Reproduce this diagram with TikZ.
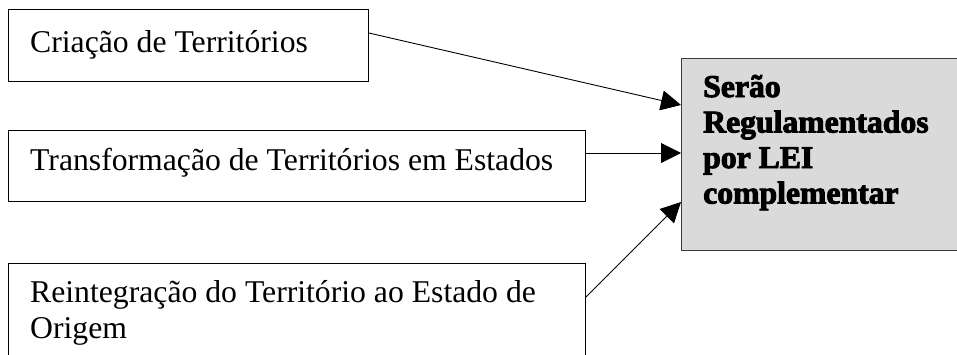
\documentclass[tikz,border=0pt]{standalone}
\usepackage{fontspec}
\setmainfont{Liberation Serif}
\newfontfamily\heavy[FakeBold=3]{Liberation Serif Bold}
\usetikzlibrary{arrows.meta,calc}
\definecolor{boxgray}{HTML}{DADADA}
\definecolor{edgegray}{HTML}{3A3A3A}
\tikzset{
  srcbox/.style={draw=black,line width=0.9pt,fill=white,rectangle,inner sep=0pt,anchor=north west},
  tgtbox/.style={draw=edgegray,line width=0.9pt,fill=boxgray,rectangle,inner sep=0pt,anchor=north west},
  lbl/.style={inner sep=0pt,anchor=base west,font=\fontsize{31.7}{36}\selectfont},
  blbl/.style={inner sep=0pt,anchor=base west,font=\fontsize{31.7}{35.5}\heavy},
  arr/.style={line width=0.9pt,-{Triangle[length=20pt,width=20pt]}}
}
\begin{document}
\begin{tikzpicture}[x=1pt,y=-1pt]
\useasboundingbox (0,0) rectangle (957,354);
\begin{scope}
\clip (0,0) rectangle (957,354);
\node[srcbox,minimum width=360pt,minimum height=72pt] (b1) at (8,9) {};
\node[srcbox,minimum width=577pt,minimum height=71pt] (b2) at (8,130) {};
\node[srcbox,minimum width=577pt,minimum height=130pt] (b3) at (8,263) {};
\node[tgtbox,minimum width=300pt,minimum height=192pt] (g) at (681,58) {};
\end{scope}
\node[lbl] (t1) at (30,52) {Criação de Territórios};
\node[lbl] (t2) at (30,170) {Transformação de Territórios em Estados};
\node[lbl] (t3a) at (30,302) {Reintegração do Território ao Estado de};
\node[lbl] (t3b) at (30,338) {Origem};
\node[blbl] (g1) at (703,97) {Serão};
\node[blbl] (g2) at (703,132.5) {Regulamentados};
\node[blbl] (g3) at (703,168) {por LEI};
\node[blbl] (g4) at (703,203.5) {complementar};
\draw[arr] ($(b1.north east)+(0,24)$) -- ($(g.north west)+(0,47)$);
\draw[arr] ($(b2.north east)+(0,23)$) -- ($(g.north west)+(0,95)$);
\draw[arr] ($(b3.north east)+(0,34)$) -- ($(g.north west)+(0,144)$);
\end{tikzpicture}
\end{document}
